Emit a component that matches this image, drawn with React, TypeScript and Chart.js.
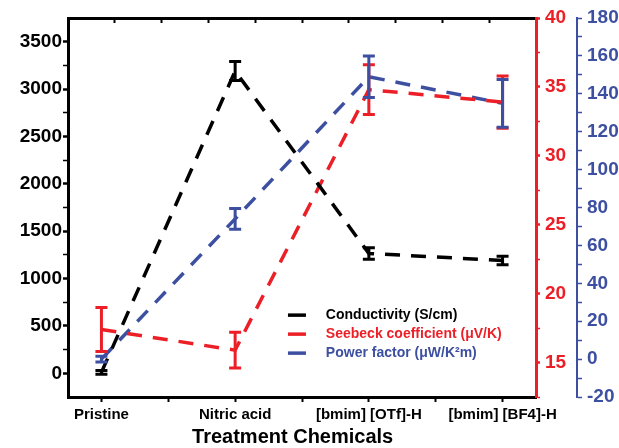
import React, { useEffect, useRef } from "react";
import { Chart, registerables } from "chart.js";

Chart.register(...registerables);

const categories = ["Pristine", "Nitric acid", "[bmim] [OTf]-H", "[bmim] [BF4]-H"];

const conductivity = [10, 3190, 1265, 1190];
const conductivityErr = [20, 100, 60, 45];

const seebeck = [17.4, 15.9, 34.8, 33.9];
const seebeckErr = [1.6, 1.3, 1.8, 1.9];

const powerFactor = [0, 74, 149, 135];
const powerFactorErr = [1.5, 5.5, 11, 12.6];

const leftTicks = [0, 250, 500, 750, 1000, 1250, 1500, 1750, 2000, 2250, 2500, 2750, 3000, 3250, 3500];
const redTicks = [12.5, 15, 17.5, 20, 22.5, 25, 27.5, 30, 32.5, 35, 37.5, 40];
const blueTicks = [-20, -10, 0, 10, 20, 30, 40, 50, 60, 70, 80, 90, 100, 110, 120, 130, 140, 150, 160, 170, 180];
const bottomTicks = [0, 0.5, 1, 1.5, 2, 2.5, 3];
const topTicks = [0.1, 0.45, 0.8, 1.15, 1.5, 1.85, 2.2, 2.55, 2.9];

const xTitle = "Treatment Chemicals";

const BLACK = "#000000";
const RED = "#ec1f27";
const BLUE = "#3d4fa1";
const FONT = "'Liberation Sans', Arial, sans-serif";

const legendItems = [
  { label: "Conductivity (S/cm)", color: BLACK },
  { label: "Seebeck coefficient (\u03bcV/K)", color: RED },
  { label: "Power factor (\u03bcW/K\u00b2m)", color: BLUE },
];

const errorBarPlugin = {
  id: "errorBars",
  afterDatasetsDraw(chart: any) {
    const ctx = chart.ctx;
    const order = [1, 2, 0];
    order.forEach((di) => {
      const ds = chart.data.datasets[di];
      const meta = chart.getDatasetMeta(di);
      const yScale = chart.scales[ds.yAxisID];
      ctx.save();
      ctx.strokeStyle = ds.borderColor;
      ctx.lineWidth = 3;
      ctx.setLineDash([]);
      meta.data.forEach((pt: any, i: number) => {
        const v = ds.data[i].y;
        const e = ds.errors[i];
        const yTop = yScale.getPixelForValue(v + e);
        const yBot = yScale.getPixelForValue(v - e);
        const x = pt.x;
        const hw = 6;
        ctx.beginPath();
        ctx.moveTo(x, yTop);
        ctx.lineTo(x, yBot);
        ctx.moveTo(x - hw, yTop);
        ctx.lineTo(x + hw, yTop);
        ctx.moveTo(x - hw, yBot);
        ctx.lineTo(x + hw, yBot);
        ctx.stroke();
      });
      ctx.restore();
    });
  },
};

const legendPlugin = {
  id: "insideLegend",
  afterDraw(chart: any) {
    const ctx = chart.ctx;
    const a = chart.chartArea;
    const w = a.right - a.left;
    const h = a.bottom - a.top;
    const lineX0 = a.left + w * 0.47;
    const lineX1 = lineX0 + 18;
    const textX = a.left + w * 0.551;
    const y0 = a.top + h * 0.784;
    const dy = 19;
    ctx.save();
    ctx.font = `bold 14px ${FONT}`;
    ctx.textBaseline = "middle";
    ctx.textAlign = "left";
    legendItems.forEach((it, i) => {
      const y = y0 + i * dy;
      ctx.strokeStyle = it.color;
      ctx.lineWidth = 3.5;
      ctx.setLineDash([]);
      ctx.beginPath();
      ctx.moveTo(lineX0, y);
      ctx.lineTo(lineX1, y);
      ctx.stroke();
      ctx.fillStyle = it.color;
      ctx.fillText(it.label, textX, y);
    });
    // x-axis title
    ctx.font = `bold 20px ${FONT}`;
    ctx.fillStyle = BLACK;
    ctx.textAlign = "center";
    ctx.fillText(xTitle, a.left + w * 0.48, chart.height - 11);
    ctx.restore();
  },
};

export default function App() {
  const ref = useRef<HTMLCanvasElement | null>(null);

  useEffect(() => {
    if (!ref.current) return;
    const mk = (vals: number[]) => vals.map((y, i) => ({ x: i, y }));
    const lineCommon = {
      type: "line",
      borderWidth: 3.5,
      borderDash: [15, 11],
      pointRadius: 0,
      fill: false,
      tension: 0,
      xAxisID: "x",
    };
    const chart = new Chart(ref.current, {
      type: "line",
      data: {
        datasets: [
          { ...lineCommon, label: "Conductivity (S/cm)", data: mk(conductivity), errors: conductivityErr, borderColor: BLACK, yAxisID: "y" },
          { ...lineCommon, label: "Seebeck coefficient", data: mk(seebeck), errors: seebeckErr, borderColor: RED, yAxisID: "yR" },
          { ...lineCommon, label: "Power factor", data: mk(powerFactor), errors: powerFactorErr, borderColor: BLUE, yAxisID: "yB" },
        ] as any,
      },
      options: {
        responsive: false,
        animation: false,
        events: [],
        layout: { padding: 0 },
        plugins: { legend: { display: false }, tooltip: { enabled: false }, title: { display: false } },
        scales: {
          x: {
            type: "linear",
            position: "bottom",
            min: -0.25,
            max: 3.25,
            afterBuildTicks: (s: any) => { s.ticks = bottomTicks.map((v) => ({ value: v })); },
            afterFit: (s: any) => { s.height = 51; },
            ticks: {
              autoSkip: false,
              maxRotation: 0,
              padding: 4,
              color: BLACK,
              font: { family: FONT, size: 15, weight: "bold" },
              callback: (v: any) => (Number.isInteger(v) ? categories[v] : ""),
            },
            grid: { drawOnChartArea: false, tickLength: 5, tickColor: BLACK, tickWidth: 2 },
            border: { color: BLACK, width: 3 },
          },
          x2: {
            type: "linear",
            position: "top",
            min: -0.25,
            max: 3.25,
            afterBuildTicks: (s: any) => { s.ticks = topTicks.map((v) => ({ value: v })); },
            afterFit: (s: any) => { s.height = 18; },
            ticks: { display: false },
            grid: { drawOnChartArea: false, tickLength: -5, tickColor: BLACK, tickWidth: 2 },
            border: { color: BLACK, width: 3 },
          },
          y: {
            type: "linear",
            position: "left",
            min: -250,
            max: 3750,
            afterBuildTicks: (s: any) => { s.ticks = leftTicks.map((v) => ({ value: v })); },
            afterFit: (s: any) => { s.width = 68; },
            ticks: {
              autoSkip: false,
              padding: 1,
              color: BLACK,
              font: { family: FONT, size: 19, weight: "bold" },
              callback: (v: any) => (v % 500 === 0 ? String(v) : ""),
            },
            grid: {
              drawOnChartArea: false,
              tickLength: 5,
              tickColor: BLACK,
              tickWidth: (c: any) => (c.tick && c.tick.value % 500 === 0 ? 2.5 : 1.5),
            },
            border: { color: BLACK, width: 3 },
          },
          yR: {
            type: "linear",
            position: "right",
            weight: 1,
            min: 12.5,
            max: 40,
            afterBuildTicks: (s: any) => { s.ticks = redTicks.map((v) => ({ value: v })); },
            afterFit: (s: any) => { s.width = 41; },
            ticks: {
              autoSkip: false,
              padding: 5,
              color: RED,
              font: { family: FONT, size: 19, weight: "bold" },
              callback: (v: any) => (v % 5 === 0 ? String(v) : ""),
            },
            grid: {
              drawOnChartArea: false,
              tickLength: 4,
              tickColor: RED,
              tickWidth: (c: any) => (c.tick && c.tick.value % 5 === 0 ? 2.5 : 1.5),
            },
            border: { color: RED, width: 3 },
          },
          yB: {
            type: "linear",
            position: "right",
            weight: 2,
            min: -20,
            max: 180,
            afterBuildTicks: (s: any) => { s.ticks = blueTicks.map((v) => ({ value: v })); },
            afterFit: (s: any) => { s.width = 42; },
            ticks: {
              autoSkip: false,
              padding: 5,
              color: BLUE,
              font: { family: FONT, size: 19, weight: "bold" },
              callback: (v: any) => (v % 20 === 0 ? String(v) : ""),
            },
            grid: { drawOnChartArea: false, tickLength: 5, tickColor: BLUE, tickWidth: 1.5 },
            border: { color: BLUE, width: 2 },
          },
        },
      } as any,
      plugins: [errorBarPlugin, legendPlugin],
    });
    return () => chart.destroy();
  }, []);

  return (
    <div style={{ position: "absolute", left: 0, top: 0, width: 619, height: 448, background: "#fff" }}>
      <canvas ref={ref} width={619} height={448} style={{ display: "block" }} />
    </div>
  );
}
